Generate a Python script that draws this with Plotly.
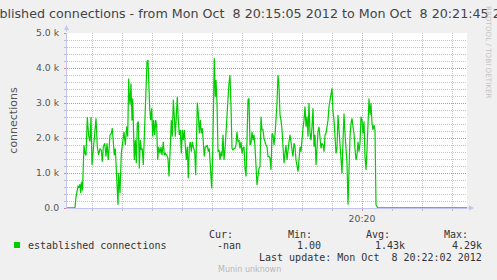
import plotly.graph_objects as go
import pandas as pd

# ---- data (time in seconds after 20:15:05, connections in thousands) ----
t_head = [0, 8, 9, 10, 11, 12, 13, 13.7, 14.5, 15.5, 17, 18, 19, 20.3, 21.7, 23, 24, 25, 26.3, 28,
          29, 30.3, 31.7, 33, 34.3, 35.3, 36.3, 37.7, 39, 40, 41.3, 43, 44.3, 45.3, 46.3, 47.3, 48.3,
          49.7, 51, 51.7, 53, 54.3, 55.7, 57, 58.3, 59.7, 60.7, 61.7, 62.3, 63, 64, 65, 65.7, 66.3,
          67.3, 68.3, 69.3, 70.3, 71.3, 72.3, 73.3, 74.3, 75.3, 76.3, 77.3, 79, 80, 81, 81.7, 82.7,
          83.7, 84.7, 85.7, 86.7, 87.7, 88.7, 89.7, 90.7, 91.7, 93, 94, 95, 96.3, 97.3, 98.3, 99.7,
          101, 102,
          103.3, 104.3, 105.3, 106.3, 107.3, 108.3, 109.3, 110.3, 111.3, 112.3, 113.3, 114.3,
          115.3, 116.3, 117.3, 118.3, 119.3, 120.3, 121.3, 122.3, 123.3, 124.3, 125.3, 126.3,
          127.7, 128.7, 129.7,
          130.3, 131.3, 132.3, 133.3, 134.3, 135.3, 136.3, 137.3, 138.3, 139.3, 140.3, 141.3, 142.3,
          143.7, 144.7, 145.7, 146.7, 147.3, 148.3, 149, 150, 151]
v_head = [0.001, 0.001, 0.32, 0.47, 0.62, 0.6, 0.68, 0.42, 0.75, 0.5, 1.8, 1.56, 1.5, 2.6, 2.05, 1.9, 2.6, 1.23, 1.75, 2.22,
          2.56, 1.75, 1.52, 1.7, 1.65, 1.32, 1.75, 1.85, 1.47, 1.85, 1.37, 2.08, 2.13, 2.28, 1.99, 1.51, 1.7,
          0.94, 0.09, 1.0, 0.42, 1.56, 1.95, 2.18, 1.8, 2.33, 2.04, 3.7, 3.18, 2.95, 3.56, 2.5, 3.13, 2.5,
          1.37, 1.94, 1.28, 2.42, 2.47, 1.13, 1.94, 1.66, 1.7, 1.23, 1.94, 2.99, 4.18, 4.23, 3.47, 2.85,
          2.51, 2.85, 2.04, 2.51, 2.09, 2.51, 2.32, 1.37, 1.75, 1.56, 1.75, 1.51, 1.89, 1.51, 1.56, 1.51,
          1.41, 0.9,
          1.75, 2.51, 2.04, 3.09, 2.61, 2.04, 2.61, 3.18, 2.51, 2.09, 2.23, 1.56,
          2.23, 1.94, 2.23, 1.85, 1.37, 1.75, 0.85, 1.75, 1.89, 1.61, 1.89, 1.75,
          1.61, 0.94, 2.04,
          3.01, 2.7, 2.13, 2.51, 2.13, 2.28, 1.85, 1.47, 1.75, 1.75, 1.8, 1.61, 1.7,
          1.09, 0.56, 1.56, 3.28, 4.28, 3.18, 3.66, 3.0, 1.61]
t_body = list(range(152, 309))
v_body = [1.66, 1.37, 1.61, 1.47, 2.09, 1.37, 1.66, 2.23, 2.9, 3.13, 3.56, 3.8, 2.9, 1.7, 1.66, 1.7,
          1.7, 1.8, 2.18, 1.89, 1.94, 1.7, 1.89, 1.56, 1.7, 1.75, 1.13, 0.9, 1.94, 3.09, 3.13, 1.8,
          1.85, 2.18, 1.94, 2.09, 1.75, 1.18, 0.66, 0.9, 1.13, 1.18, 2.61, 2.23, 2.23, 1.99, 1.85, 1.8,
          1.75, 1.47, 1.47, 1.42, 1.09, 2.13, 2.09, 1.8, 2.09, 2.51, 3.0, 3.8, 3.47, 2.66, 2.51, 2.23,
          1.75, 1.28, 1.56, 1.8, 1.37, 1.75, 1.89, 2.09, 1.85, 1.56, 1.47, 1.85, 1.75, 1.37, 1.18, 1.04,
          1.37, 1.75, 1.61, 2.04, 2.28, 2.51, 2.9, 2.32, 2.61, 2.04, 3.0, 2.13, 1.94, 2.32, 2.85, 1.75,
          2.09, 1.23, 1.99, 2.18, 2.32, 1.89, 1.7, 1.85, 1.8, 1.61, 2.09, 2.13, 2.32, 2.51, 2.9, 3.09,
          3.33, 3.42, 2.75, 2.51, 2.04, 1.56, 1.7, 2.66, 2.23, 1.8, 1.37, 0.99, 1.89, 2.7, 2.13, 1.8,
          1.28, 0.09, 1.18, 2.04, 2.42, 2.56, 2.32, 2.13, 1.7, 1.37, 1.51, 1.89, 1.61, 1.85, 2.61, 2.51,
          2.13, 2.47, 1.47, 1.09, 1.66, 2.7, 3.13, 2.66, 2.99, 2.42, 2.23, 2.37, 2.23]
t_tail = [309, 310, 311, 400]
v_tail = [0.09, 0.05, 0.001, 0.001]

y_tickvals = [0, 1, 2, 3, 4, 5]
y_ticktext = ["0.0", "1.0 k", "2.0 k", "3.0 k", "4.0 k", "5.0 k"]

series_name = "established connections"
stat_labels = ["Cur:", "Min:", "Avg:", "Max:"]
stat_values = ["-nan", "1.00", "1.43k", "4.29k"]
title_text = "Established connections - from Mon Oct\u00a0 8 20:15:05 2012 to Mon Oct\u00a0 8 20:21:45 2012"
last_update = "Last update: Mon Oct\u00a0 8 20:22:02 2012"

t_sec = t_head + t_body + t_tail
conn_k = v_head + v_body + v_tail
assert len(t_sec) == len(conn_k), (len(t_sec), len(conn_k))

start = pd.Timestamp("2012-10-08 20:15:05")
end = pd.Timestamp("2012-10-08 20:21:45")
xs = [start + pd.Timedelta(seconds=s) for s in t_sec]

W, H = 497, 280
L, R, T, B = 67, 467, 33, 208   # plot area in pixels


def px(x):
    return (x - L) / (R - L)


def py(y):
    return (B - y) / (B - T)


fig = go.Figure(go.Scatter(x=xs, y=conn_k, mode="lines",
                           line=dict(color="#00cc00", width=1.2),
                           hoverinfo="skip", showlegend=False))

GRID_MIN = "rgba(150,150,150,0.55)"
GRID_MAJ = "rgba(230,110,110,0.75)"
AXIS = "#c4c4f4"

fig.update_layout(
    width=W, height=H, autosize=False,
    margin=dict(l=L, r=W - R, t=T, b=H - B, pad=0),
    paper_bgcolor="#f0f0f0", plot_bgcolor="#ffffff",
    font=dict(family="DejaVu Sans", size=9.3, color="#555555"),
    title=dict(text=title_text, x=0.5, xref="container", xanchor="center",
               y=1 - 14 / H, yref="container", yanchor="middle",
               font=dict(family="DejaVu Sans", size=12.7, color="#444444")),
    showlegend=False,
)

fig.update_xaxes(
    range=[start, end], tick0="2012-10-08 20:20:00", dtick=600000, tickformat="%H:%M",
    showgrid=True, gridcolor=GRID_MAJ, griddash="1px,1px", gridwidth=1,
    ticks="outside", ticklen=2, tickcolor=GRID_MAJ,
    minor=dict(dtick=30000, tick0="2012-10-08 20:20:00", showgrid=True, gridcolor=GRID_MIN,
               griddash="1px,1px", ticks="outside", ticklen=2, tickcolor=GRID_MIN),
    showline=True, linecolor=AXIS, linewidth=1, zeroline=False, mirror=False,
    tickfont=dict(size=9.3, color="#555555"), fixedrange=True,
)
fig.update_yaxes(
    range=[0, 5], tickvals=y_tickvals, ticktext=y_ticktext,
    showgrid=True, gridcolor=GRID_MAJ, griddash="1px,1px", gridwidth=1,
    ticks="outside", ticklen=2, tickcolor=GRID_MAJ, ticklabelstandoff=3,
    minor=dict(dtick=0.2, showgrid=True, gridcolor=GRID_MIN, griddash="1px,1px",
               ticks="outside", ticklen=2, tickcolor=GRID_MIN),
    showline=True, linecolor=AXIS, linewidth=1, zeroline=False,
    title=dict(text="connections", font=dict(size=11, color="#555555"), standoff=16),
    tickfont=dict(size=9.3, color="#555555"), fixedrange=True,
)

ann = []
# axis arrows
ann.append(dict(x=px(66.5), y=py(25), xref="paper", yref="paper", ax=0, ay=8, text="",
                showarrow=True, arrowhead=2, arrowsize=1, arrowwidth=1, arrowcolor=AXIS))
ann.append(dict(x=px(474), y=py(208), xref="paper", yref="paper", ax=-8, ay=0, text="",
                showarrow=True, arrowhead=2, arrowsize=1, arrowwidth=1, arrowcolor=AXIS))
# rrdtool credit
ann.append(dict(x=px(488), y=py(52), xref="paper", yref="paper", text="RRDTOOL / TOBI OETIKER",
                textangle=90, xanchor="center", yanchor="middle", showarrow=False,
                font=dict(size=7.2, color="#c4c4c4")))
mono = "DejaVu Sans Mono"
# legend entry
ann.append(dict(x=px(26), y=py(245), xref="paper", yref="paper", text=series_name, xanchor="left",
                yanchor="middle", showarrow=False, font=dict(family=mono, size=10, color="#333333")))
lab_right = [235, 314, 392, 470]
val_right = [243, 323, 407, 484]
for lab, lr in zip(stat_labels, lab_right):
    ann.append(dict(x=px(lr), y=py(234), xref="paper", yref="paper", text=lab, xanchor="right",
                    yanchor="middle", showarrow=False, font=dict(family=mono, size=10, color="#333333")))
for val, vr in zip(stat_values, val_right):
    ann.append(dict(x=px(vr), y=py(245.5), xref="paper", yref="paper", text=val, xanchor="right",
                    yanchor="middle", showarrow=False, font=dict(family=mono, size=10, color="#333333")))
ann.append(dict(x=px(484), y=py(257), xref="paper", yref="paper", text=last_update, xanchor="right",
                yanchor="middle", showarrow=False, font=dict(family=mono, size=10, color="#333333")))
ann.append(dict(x=px(216), y=py(269), xref="paper", yref="paper", text="Munin unknown", xanchor="left",
                yanchor="middle", showarrow=False, font=dict(family="DejaVu Sans", size=8, color="#b8b8b8")))
fig.update_layout(annotations=ann)

fig.add_shape(type="rect", xref="paper", yref="paper",
              x0=px(14), x1=px(20), y0=py(242), y1=py(248),
              fillcolor="#00cc00", line=dict(width=0))

fig.write_html("out.html")
